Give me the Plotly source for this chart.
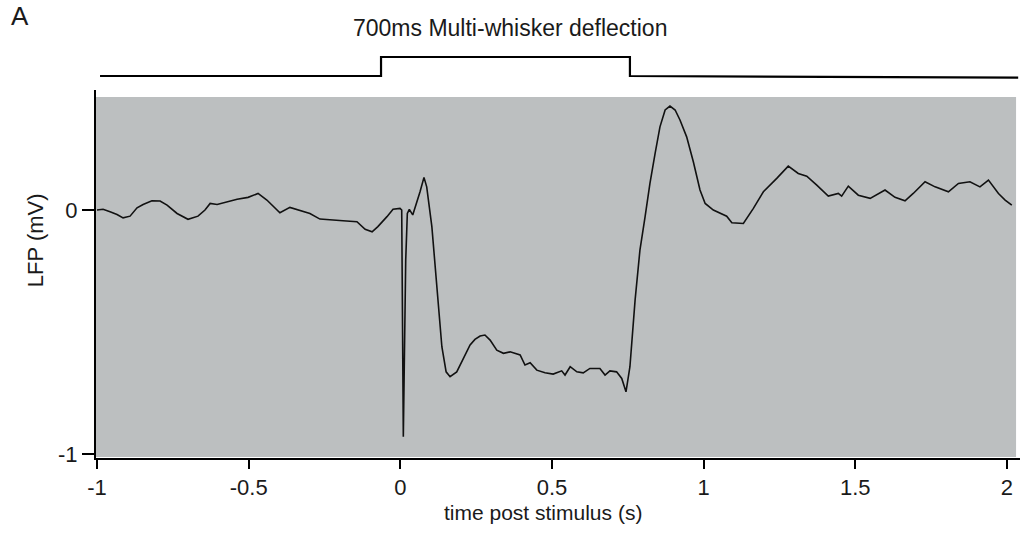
import plotly.graph_objects as go

# LFP trace (time in s, LFP in mV)
time_s = [-1.0, -0.980, -0.957, -0.934, -0.914, -0.891, -0.868, -0.848, -0.819, -0.792,
          -0.769, -0.736, -0.700, -0.667, -0.644, -0.627, -0.604, -0.571, -0.538, -0.502,
          -0.469, -0.440, -0.413, -0.397, -0.364, -0.331, -0.298, -0.265, -0.232, -0.189,
          -0.143, -0.116, -0.093, -0.074, -0.044, -0.024, -0.001, 0.0046, 0.0099, 0.0178,
          0.0231, 0.0297, 0.0409, 0.0541, 0.065, 0.078, 0.087, 0.104, 0.120, 0.137,
          0.151, 0.164, 0.186, 0.208, 0.230, 0.246, 0.263, 0.279, 0.296, 0.318,
          0.340, 0.362, 0.395, 0.411, 0.428, 0.450, 0.477, 0.504, 0.532, 0.543,
          0.560, 0.582, 0.603, 0.625, 0.658, 0.675, 0.691, 0.713, 0.730, 0.744,
          0.757, 0.774, 0.790, 0.807, 0.823, 0.840, 0.856, 0.873, 0.889, 0.906,
          0.922, 0.944, 0.966, 0.988, 1.005, 1.032, 1.076, 1.093, 1.131, 1.164,
          1.197, 1.241, 1.279, 1.312, 1.340, 1.373, 1.411, 1.444, 1.455, 1.477,
          1.510, 1.549, 1.598, 1.631, 1.664, 1.691, 1.730, 1.763, 1.807, 1.840,
          1.878, 1.911, 1.939, 1.972, 1.994, 2.016]
lfp_mv = [0.0, 0.003, -0.007, -0.018, -0.032, -0.025, 0.009, 0.023, 0.038, 0.037,
          0.020, -0.014, -0.038, -0.025, 0.0, 0.027, 0.023, 0.034, 0.044, 0.052,
          0.068, 0.041, 0.007, -0.011, 0.011, 0.0, -0.014, -0.037, -0.041, -0.044,
          -0.048, -0.079, -0.089, -0.068, -0.027, 0.003, 0.007, 0.0, -0.929, -0.205,
          -0.014, 0.003, -0.020, 0.027, 0.075, 0.134, 0.095, -0.068, -0.314, -0.560,
          -0.663, -0.683, -0.663, -0.608, -0.553, -0.530, -0.516, -0.512, -0.533, -0.574,
          -0.587, -0.581, -0.594, -0.635, -0.626, -0.656, -0.667, -0.672, -0.659, -0.676,
          -0.642, -0.663, -0.667, -0.649, -0.649, -0.676, -0.659, -0.663, -0.690, -0.745,
          -0.642, -0.369, -0.164, -0.027, 0.109, 0.232, 0.341, 0.410, 0.426, 0.410,
          0.369, 0.300, 0.198, 0.082, 0.027, 0.0, -0.025, -0.052, -0.055, 0.007,
          0.075, 0.130, 0.180, 0.150, 0.139, 0.102, 0.057, 0.068, 0.057, 0.098,
          0.061, 0.048, 0.082, 0.052, 0.038, 0.068, 0.116, 0.095, 0.075, 0.109,
          0.116, 0.095, 0.123, 0.068, 0.041, 0.020]

# Stimulus (whisker deflection) trace
stim_t = [-0.99, -0.0636, -0.0636, 0.757, 0.757, 2.037]
stim_v = [0.0, 0.0, 1.0, 1.0, 0.0, -0.09]

x_ticks = [-1, -0.5, 0, 0.5, 1, 1.5, 2]
x_tick_labels = ["-1", "-0.5", "0", "0.5", "1", "1.5", "2"]
y_ticks = [-1, 0]
y_tick_labels = ["-1", "0"]

FONT = "Liberation Sans, Arial, sans-serif"
TXT = "#1a1a1a"

fig = go.Figure()
fig.add_trace(go.Scatter(x=time_s, y=lfp_mv, mode="lines",
                         line=dict(color="#111111", width=1.6), showlegend=False))
fig.add_trace(go.Scatter(x=stim_t, y=stim_v, mode="lines", xaxis="x", yaxis="y2",
                         line=dict(color="#000000", width=2.2), showlegend=False))

fig.add_shape(type="rect", xref="x", yref="y", x0=-1.0033, x1=2.03, y0=-1.012, y1=0.463,
              fillcolor="#bcbfc0", line=dict(width=0), layer="below")

fig.update_layout(
    width=1021, height=535,
    margin=dict(l=96, r=1, t=50, b=77),
    paper_bgcolor="white", plot_bgcolor="white",
    font=dict(family=FONT, size=22, color=TXT),
    xaxis=dict(range=[-1.0033, 2.043], domain=[0, 1], anchor="y",
               tickmode="array", tickvals=x_ticks, ticktext=x_tick_labels,
               ticks="outside", ticklen=9, tickwidth=2, tickcolor="black",
               showline=True, linewidth=2, linecolor="black",
               showgrid=False, zeroline=False,
               tickfont=dict(family=FONT, size=22, color=TXT)),
    yaxis=dict(range=[-1.016, 0.492], domain=[0, 0.902], anchor="x",
               tickmode="array", tickvals=y_ticks, ticktext=y_tick_labels,
               ticks="outside", ticklen=12, tickwidth=2, tickcolor="black",
               showline=True, linewidth=2, linecolor="black",
               showgrid=False, zeroline=False,
               tickfont=dict(family=FONT, size=22, color=TXT)),
    yaxis2=dict(range=[-0.737, 1.368], domain=[0.902, 1], anchor="x",
                visible=False, showgrid=False, zeroline=False),
    annotations=[
        dict(text="700ms Multi-whisker deflection", xref="paper", yref="paper",
             x=0.448, y=1.054, xanchor="center", yanchor="middle", showarrow=False,
             font=dict(family=FONT, size=23, color=TXT)),
        dict(text="A", xref="paper", yref="paper", x=-0.0941, y=1.084,
             xanchor="left", yanchor="middle", showarrow=False,
             font=dict(family=FONT, size=26, color=TXT)),
        dict(text="LFP (mV)", xref="paper", yref="paper", x=-0.066, y=0.534,
             xanchor="center", yanchor="middle", textangle=-90, showarrow=False,
             font=dict(family=FONT, size=22, color=TXT)),
        dict(text="time post stimulus (s)", xref="paper", yref="paper", x=0.4843, y=-0.1348,
             xanchor="center", yanchor="middle", showarrow=False,
             font=dict(family=FONT, size=21, color=TXT)),
    ],
)

fig.write_html("out.html")
